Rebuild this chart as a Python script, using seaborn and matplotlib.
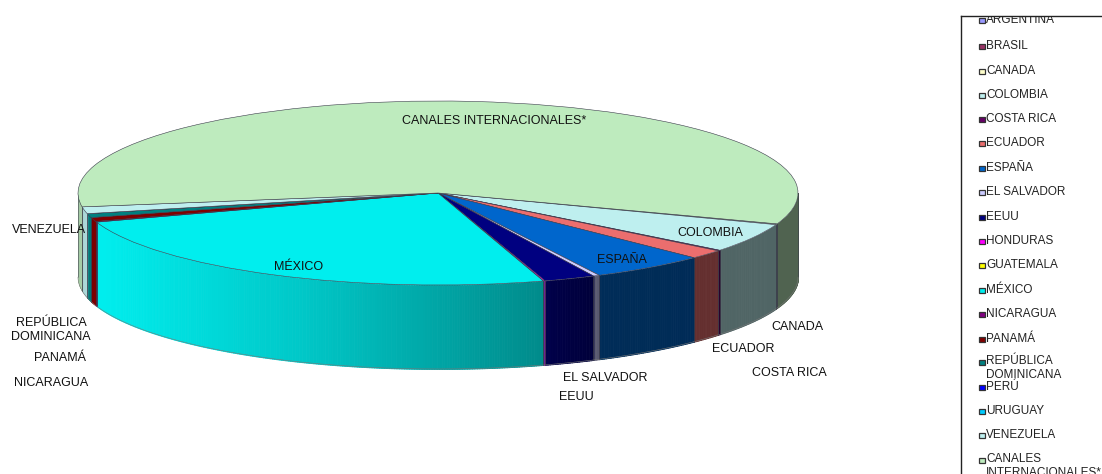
import numpy as np
import matplotlib
matplotlib.use('Agg')
import matplotlib.pyplot as plt
from matplotlib.colors import to_rgb
from matplotlib.patches import Rectangle
import seaborn as sns

# slices in legend order, share in percent
paises = ['ARGENTINA', 'BRASIL', 'CANADA', 'COLOMBIA', 'COSTA RICA', 'ECUADOR', 'ESPAÑA',
          'EL SALVADOR', 'EEUU', 'HONDURAS', 'GUATEMALA', 'MÉXICO', 'NICARAGUA', 'PANAMÁ',
          'REPÚBLICA\nDOMINICANA', 'PERÚ', 'URUGUAY', 'VENEZUELA', 'CANALES\nINTERNACIONALES*']
valores = [0.0, 0.0, 0.15, 5.1, 0.12, 1.6, 5.2, 0.28, 2.3, 0.08, 0.0, 24.6, 0.12, 0.7,
           0.7, 0.0, 0.0, 1.2, 57.85]
colores = ['#9999FF', '#993366', '#FFFFCC', '#BEEFEF', '#660066', '#EB6E6E', '#0066CC',
           '#CCCCFF', '#000080', '#FF00FF', '#FFFF00', '#00EEEE', '#800080', '#800000',
           '#008080', '#0000FF', '#00CCFF', '#BEEFEF', '#BEEBBE']

# labels around the pie: text, x px, y px
etiquetas = [('CANALES INTERNACIONALES*', 494, 121), ('COLOMBIA', 710, 233), ('ESPAÑA', 622, 260),
             ('MÉXICO', 299, 267), ('VENEZUELA', 49, 230), ('REPÚBLICA\nDOMINICANA', 51, 330),
             ('PANAMÁ', 60, 358), ('NICARAGUA', 51, 383), ('EL SALVADOR', 605, 378),
             ('EEUU', 576, 397), ('COSTA RICA', 789, 373), ('ECUADOR', 743, 349), ('CANADA', 797, 327)]
leyenda_y = [20, 46, 71, 95, 119, 143, 168, 192, 217, 241, 265, 290, 314, 339, 368, 387, 411, 435, 466]

sns.set_theme(style='white')
plt.rcParams['font.family'] = ['Liberation Sans', 'DejaVu Sans']

W, H = 1102, 474
CX, CY, RX, RY = 438, 193, 360, 92
PROF = 84 / RY
INICIO = 19.6  # first slice, degrees clockwise from the right

fig = plt.figure(figsize=(W / 100, H / 100), dpi=100)
ax = fig.add_axes([0, 0, 1, 1])

# top of the pie, the axes limits squash the circle into an ellipse
ax.pie(valores, colors=colores, startangle=-INICIO, counterclock=False, radius=1,
       wedgeprops={'edgecolor': '#3a3a4a', 'linewidth': 0.4, 'zorder': 3})
ax.set_aspect('auto')
ax.set_xlim((0 - CX) / RX, (W - CX) / RX)
ax.set_ylim((CY - H) / RY, CY / RY)


# light falls from the left
def sombra(x):
    px = x * RX + CX
    return np.interp(px, [78, 97, 300, 545, 600, 800], [0.86, 1.0, 0.84, 0.58, 0.43, 0.42])


# side wall, only the front half shows
angulos = INICIO + np.cumsum([0] + valores) * 3.6
for i in range(len(valores)):
    for desde, hasta in [(angulos[i], angulos[i + 1]), (angulos[i] - 360, angulos[i + 1] - 360)]:
        a0, a1 = max(desde, 0), min(hasta, 180)
        if a1 <= a0:
            continue
        n = max(int((a1 - a0) / 0.4), 1)
        t = np.radians(np.linspace(a0, a1, n + 1))
        x = np.cos(t)
        y = -np.sin(t)
        base = np.array(to_rgb(colores[i]))
        for j in range(n):
            c = base * sombra((x[j] + x[j + 1]) / 2)
            ax.fill_between(x[j:j + 2], y[j:j + 2], y[j:j + 2] - PROF, color=c, linewidth=0.6,
                            antialiased=False, zorder=2)
        for v in (0, -1):
            ax.plot([x[v], x[v]], [y[v], y[v] - PROF], color='#3a3a4a', linewidth=0.4, zorder=2.5)
        ax.plot(x, y - PROF, color='#777777', linewidth=0.4, zorder=2.5)

for texto, px, py in etiquetas:
    fig.text(px / W, 1 - py / H, texto, ha='center', va='center', fontsize=9.0,
             color='#111111', linespacing=1.2, zorder=10)

# legend box runs off the picture, text gets cut at its edges
ley = fig.add_axes([961 / W, 0, (W - 961) / W, 1 - 16 / H], facecolor='white')
ley.set_xlim(961, W)
ley.set_ylim(H, 16)
ley.set_xticks([])
ley.set_yticks([])
for lado in ('right', 'bottom'):
    ley.spines[lado].set_visible(False)
for lado in ('left', 'top'):
    ley.spines[lado].set_color('#222222')
    ley.spines[lado].set_linewidth(1.0)
for nombre, color, y in zip(paises, colores, leyenda_y):
    primera = y - 6 if '\n' in nombre else y
    ley.add_patch(Rectangle((979, primera - 2.5), 5.5, 5.5, facecolor=color, edgecolor='#333333', linewidth=0.9))
    ley.text(986, y, nombre, ha='left', va='center', fontsize=8.5, color='#222222',
             linespacing=1.2, clip_on=True)

fig.savefig('out.png', dpi=100)
